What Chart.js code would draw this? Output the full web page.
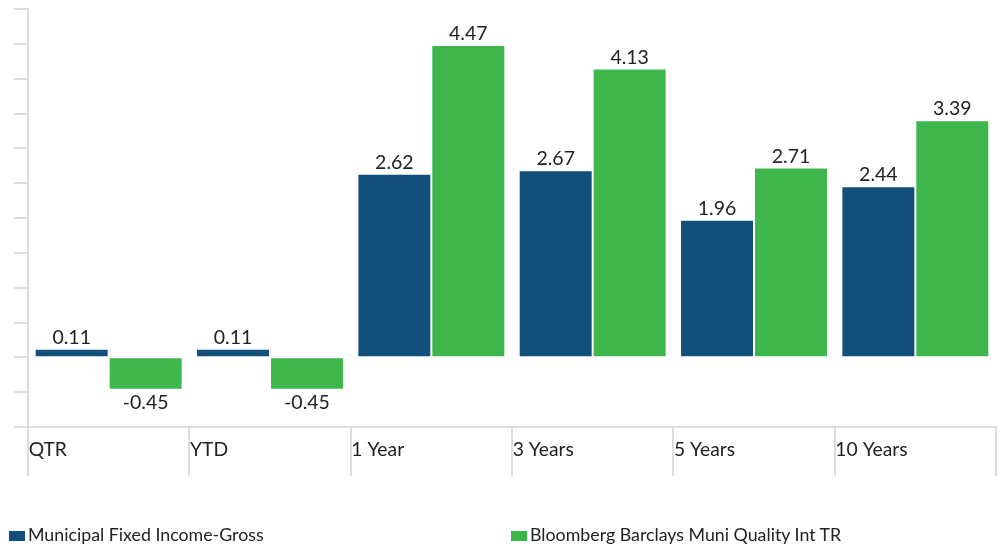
<!DOCTYPE html>
<html>
<head>
<meta charset="utf-8">
<script src="https://cdn.jsdelivr.net/npm/chart.js@4.4.0/dist/chart.umd.min.js"></script>
<style>
  body { margin: 0; background: #fff; }
  #wrap { position: relative; width: 1001px; height: 548px; }
  .leg { position: absolute; top: 523px; font: 17.8px Lato, sans-serif; color: #222; white-space: nowrap; }
  .leg span { display: inline-block; width: 16px; height: 10px; margin-right: 3px; vertical-align: 0px; }
</style>
</head>
<body>
<div id="wrap">
  <canvas id="returns" width="1001" height="548"></canvas>
  <div class="leg" style="left:9px"><span style="background:#124f7a"></span>Municipal Fixed Income-Gross</div>
  <div class="leg" style="left:511px"><span style="background:#3db64c"></span>Bloomberg Barclays Muni Quality Int TR</div>
</div>
<script>
const periods = ['QTR', 'YTD', '1 Year', '3 Years', '5 Years', '10 Years'];
const municipal = [0.11, 0.11, 2.62, 2.67, 1.96, 2.44];
const bloomberg = [-0.45, -0.45, 4.47, 4.13, 2.71, 3.39];
const seriesNames = ['Municipal Fixed Income-Gross', 'Bloomberg Barclays Muni Quality Int TR'];

// value labels above (or below for negatives) each bar
const valueLabels = {
    id: 'valueLabels',
    afterDatasetsDraw(chart) {
        const ctx = chart.ctx;
        ctx.save();
        ctx.font = '19.5px Lato, sans-serif';
        ctx.fillStyle = '#222';
        ctx.textAlign = 'center';
        chart.data.datasets.forEach(function (ds, i) {
            chart.getDatasetMeta(i).data.forEach(function (bar, j) {
                const v = ds.data[j];
                if (v >= 0) {
                    ctx.textBaseline = 'alphabetic';
                    ctx.fillText(v.toFixed(2), bar.x, bar.y - 6);
                } else {
                    ctx.textBaseline = 'top';
                    ctx.fillText(v.toFixed(2), bar.x, bar.y + 4);
                }
            });
        });
        ctx.restore();
    }
};

const ctx = document.getElementById('returns').getContext('2d');
const chart = new Chart(ctx, {
    type: 'bar',
    data: {
        labels: periods,
        datasets: [{
            label: seriesNames[0],
            data: municipal,
            backgroundColor: '#124f7a',
            barPercentage: 0.973,
            categoryPercentage: 0.917
        }, {
            label: seriesNames[1],
            data: bloomberg,
            backgroundColor: '#3db64c',
            barPercentage: 0.973,
            categoryPercentage: 0.917
        }]
    },
    options: {
        responsive: false,
        animation: false,
        layout: {
            padding: { top: 9, left: 14, right: 5, bottom: 72 }
        },
        plugins: {
            legend: { display: false },
            tooltip: { enabled: false }
        },
        scales: {
            x: {
                afterFit: function (scale) { scale.height = 49; },
                grid: {
                    drawOnChartArea: false,
                    drawTicks: true,
                    tickLength: 49,
                    color: '#dddddd',
                    lineWidth: 2
                },
                border: { color: '#dddddd', width: 2 },
                ticks: {
                    autoSkip: false,
                    maxRotation: 0,
                    align: 'start',
                    labelOffset: -80,
                    padding: -38,
                    color: '#222',
                    font: { family: 'Lato', size: 19.3 }
                }
            },
            y: {
                min: -1,
                max: 5,
                afterFit: function (scale) { scale.width = 14; },
                grid: {
                    drawOnChartArea: false,
                    drawTicks: true,
                    tickLength: 14,
                    color: '#dddddd',
                    lineWidth: 2
                },
                border: { color: '#dddddd', width: 2 },
                ticks: { display: false, stepSize: 0.5 }
            }
        }
    },
    plugins: [valueLabels]
});
</script>
</body>
</html>
